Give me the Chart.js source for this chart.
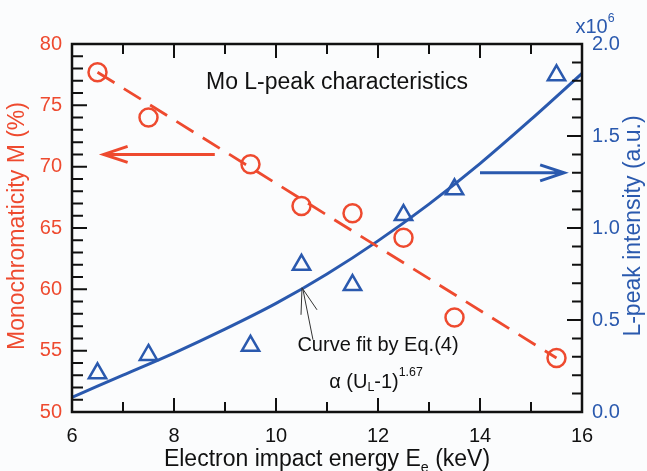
<!DOCTYPE html>
<html>
<head>
<meta charset="utf-8">
<script src="https://cdn.jsdelivr.net/npm/chart.js@4.4.1/dist/chart.umd.min.js"></script>
<style>
  html, body { margin: 0; padding: 0; background: #fbfcfd; }
  #wrap { width: 647px; height: 471px; }
</style>
</head>
<body>
<div id="wrap"><canvas id="graph" width="647" height="471"></canvas></div>
<script>
// measured points (keV)
var energy = [6.5, 7.5, 9.5, 10.5, 11.5, 12.5, 13.5, 15.5];
var mono = [77.7, 74.0, 70.2, 66.8, 66.2, 64.2, 57.7, 54.4];   // M (%)
var peak = [0.21, 0.31, 0.36, 0.80, 0.69, 1.07, 1.21, 1.83];   // x10^6 a.u.

// straight fit of M
var monoFitX = [6.5, 15.5];
var monoFitY = [77.7, 54.4];

var curveX = [6, 7, 8, 9, 10, 11, 12, 13, 14, 15, 16];
var curveY = [0.08, 0.20, 0.32, 0.45, 0.59, 0.75, 0.93, 1.13, 1.35, 1.59, 1.84];

var xTicks = [6, 8, 10, 12, 14, 16];
var mTicks = [50, 55, 60, 65, 70, 75, 80];
var iTicks = [0.0, 0.5, 1.0, 1.5, 2.0];

const RED = '#ee4a2f';
const BLUE = '#2a59ae';
const FONT = '"Liberation Sans", Arial, sans-serif';

function pts(xs, ys) {
    return xs.map(function (v, i) { return { x: v, y: ys[i] }; });
}

function setTicks(arr) {
    return function (s) { s.ticks = arr.map(function (v) { return { value: v }; }); };
}

// text with a raised or lowered small part
function drawParts(ctx, parts, cx, cy, size) {
    var w = 0;
    parts.forEach(function (p) {
        ctx.font = (p.s ? size * 0.62 : size) + 'px ' + FONT;
        p.w = ctx.measureText(p.t).width;
        w += p.w;
    });
    var x = cx - w / 2;
    parts.forEach(function (p) {
        ctx.font = (p.s ? size * 0.62 : size) + 'px ' + FONT;
        ctx.fillText(p.t, x, cy + (p.s || 0) * size);
        x += p.w;
    });
}

function arrow(ctx, x1, y1, x2, y2, head, half) {
    var a = Math.atan2(y2 - y1, x2 - x1);
    ctx.beginPath();
    ctx.moveTo(x1, y1);
    ctx.lineTo(x2, y2);
    ctx.moveTo(x2 - head * Math.cos(a) + half * Math.sin(a), y2 - head * Math.sin(a) - half * Math.cos(a));
    ctx.lineTo(x2, y2);
    ctx.lineTo(x2 - head * Math.cos(a) - half * Math.sin(a), y2 - head * Math.sin(a) + half * Math.cos(a));
    ctx.stroke();
}

var deco = {
    id: 'deco',
    afterDraw: function (chart) {
        var ctx = chart.ctx, a = chart.chartArea;
        var sx = chart.scales.x, sm = chart.scales.yM, si = chart.scales.yI;
        ctx.save();

        // inward ticks, all four sides
        ctx.strokeStyle = '#111';
        ctx.lineWidth = 2;
        ctx.beginPath();
        for (var v = 6; v <= 16; v++) {
            var len = v % 2 == 0 ? 14 : 10;
            var px = sx.getPixelForValue(v);
            ctx.moveTo(px, a.bottom); ctx.lineTo(px, a.bottom - len);
            ctx.moveTo(px, a.top); ctx.lineTo(px, a.top + len);
        }
        for (var m = 50; m <= 80; m++) {
            var l2 = m % 5 == 0 ? 15 : 11;
            var py = sm.getPixelForValue(m);
            ctx.moveTo(a.left, py); ctx.lineTo(a.left + l2, py);
        }
        for (var k = 0; k <= 20; k++) {
            var l3 = k % 5 == 0 ? 15 : 10;
            var py2 = si.getPixelForValue(k / 10);
            ctx.moveTo(a.right, py2); ctx.lineTo(a.right - l3, py2);
        }
        ctx.stroke();

        // frame
        ctx.lineWidth = 2.5;
        ctx.strokeRect(a.left, a.top, a.right - a.left, a.bottom - a.top);

        // arrows pointing at the axes
        ctx.lineWidth = 3;
        ctx.strokeStyle = RED;
        arrow(ctx, sx.getPixelForValue(8.8), sm.getPixelForValue(71), sx.getPixelForValue(6.62), sm.getPixelForValue(71), 24, 8);
        ctx.strokeStyle = BLUE;
        arrow(ctx, sx.getPixelForValue(14.0), si.getPixelForValue(1.30), sx.getPixelForValue(15.65), si.getPixelForValue(1.30), 24, 8);

        // pointer to the fit curve
        ctx.strokeStyle = '#333';
        ctx.lineWidth = 1;
        var tx = sx.getPixelForValue(10.51), ty = si.getPixelForValue(0.675);
        ctx.beginPath();
        ctx.moveTo(tx - 1, ty + 27); ctx.lineTo(tx, ty); ctx.lineTo(tx + 15, ty + 22);
        ctx.moveTo(tx + 1, ty + 2); ctx.lineTo(tx + 11, ty + 52);
        ctx.stroke();

        // texts
        ctx.textBaseline = 'middle';
        ctx.fillStyle = '#111';
        ctx.textAlign = 'center';
        ctx.font = '23px ' + FONT;
        ctx.fillText('Mo L-peak characteristics', 337, 83);
        ctx.textAlign = 'left';
        drawParts(ctx, [{ t: 'Curve fit by Eq.(4)' }], 378, 345, 20);
        drawParts(ctx, [{ t: '\u03b1 (U' }, { t: 'L', s: 0.3 }, { t: '-1)' }, { t: '1.67', s: -0.45 }], 376, 382, 20);

        drawParts(ctx, [{ t: 'Electron impact energy E' }, { t: 'e', s: 0.35 }, { t: ' (keV)' }], 327, 460, 23);

        ctx.fillStyle = BLUE;
        drawParts(ctx, [{ t: 'x10' }, { t: '6', s: -0.4 }], 595, 27, 20);

        ctx.textAlign = 'center';
        ctx.font = '23px ' + FONT;
        ctx.save();
        ctx.translate(634, 226);
        ctx.rotate(-Math.PI / 2);
        ctx.fillText('L-peak intensity (a.u.)', 0, 0);
        ctx.restore();

        ctx.fillStyle = RED;
        ctx.save();
        ctx.translate(18, 226);
        ctx.rotate(-Math.PI / 2);
        ctx.fillText('Monochromaticity M (%)', 0, 0);
        ctx.restore();

        ctx.restore();
    }
};

var g = document.getElementById('graph').getContext('2d');

var graph = new Chart(g, {
    type: 'scatter',
    data: {
        datasets: [
            {
                label: 'M',
                data: pts(energy, mono),
                yAxisID: 'yM',
                pointStyle: 'circle',
                pointRadius: 9,
                borderColor: RED,
                backgroundColor: 'rgba(0,0,0,0)',
                borderWidth: 2.5
            },
            {
                label: 'M fit',
                data: pts(monoFitX, monoFitY),
                yAxisID: 'yM',
                showLine: true,
                pointRadius: 0,
                borderColor: RED,
                borderWidth: 2.8,
                borderDash: [20, 11]
            },
            {
                label: 'L-peak',
                data: pts(energy, peak),
                yAxisID: 'yI',
                pointStyle: 'triangle',
                pointRadius: 10,
                borderColor: BLUE,
                backgroundColor: 'rgba(0,0,0,0)',
                borderWidth: 2.5
            },
            {
                label: 'Eq.(4)',
                data: pts(curveX, curveY),
                yAxisID: 'yI',
                showLine: true,
                pointRadius: 0,
                borderColor: BLUE,
                borderWidth: 3,
                cubicInterpolationMode: 'monotone'
            }
        ]
    },
    options: {
        responsive: false,
        animation: false,
        devicePixelRatio: 1,
        layout: { padding: { top: 44, left: 0, right: 0, bottom: 0 } },
        plugins: { legend: { display: false }, tooltip: { enabled: false } },
        scales: {
            x: {
                type: 'linear', min: 6, max: 16,
                afterBuildTicks: setTicks(xTicks),
                afterFit: function (s) { s.height = 59; },
                grid: { display: false, drawTicks: false },
                border: { display: false },
                ticks: { color: '#111', padding: 12, font: { size: 20, family: FONT } }
            },
            yM: {
                type: 'linear', position: 'left', min: 50, max: 80,
                afterBuildTicks: setTicks(mTicks),
                afterFit: function (s) { s.width = 72; },
                grid: { display: false, drawTicks: false },
                border: { display: false },
                ticks: { color: RED, padding: 10, font: { size: 20, family: FONT } }
            },
            yI: {
                type: 'linear', position: 'right', min: 0, max: 2,
                afterBuildTicks: setTicks(iTicks),
                afterFit: function (s) { s.width = 65; },
                grid: { display: false, drawTicks: false },
                border: { display: false },
                ticks: {
                    color: BLUE, padding: 10, font: { size: 20, family: FONT },
                    callback: function (v) { return v.toFixed(1); }
                }
            }
        }
    },
    plugins: [deco]
});
</script>
</body>
</html>
